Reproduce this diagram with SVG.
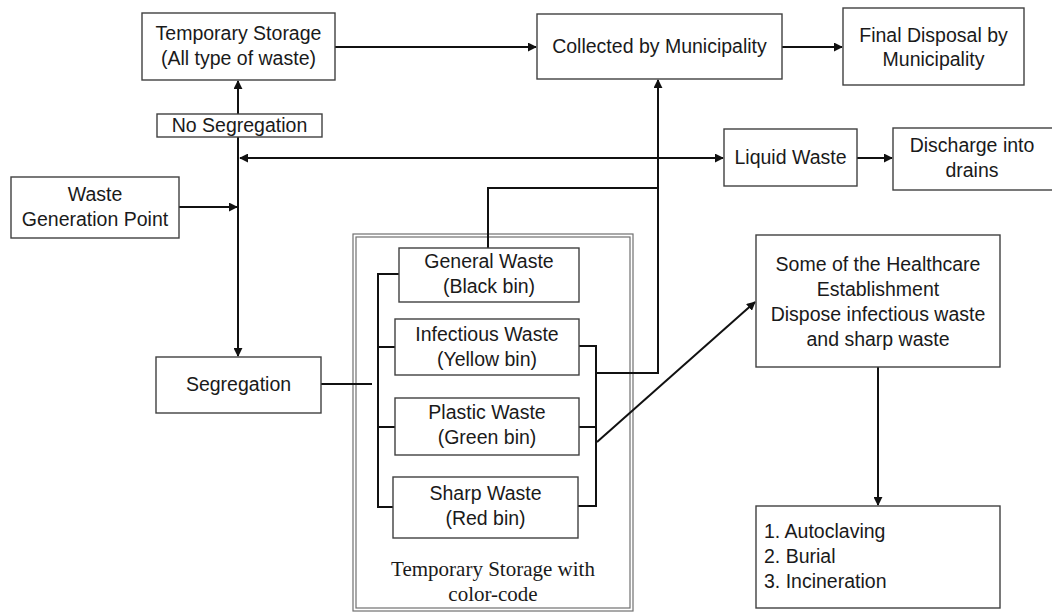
<svg xmlns="http://www.w3.org/2000/svg" width="1052" height="612" viewBox="0 0 1052 612">
<defs>
<style>
.box{fill:#fff;stroke:#404040;stroke-width:1.4}
.outer{fill:none;stroke:#707070;stroke-width:1.2}
.t{font-family:"Liberation Sans",Arial,sans-serif;font-size:19.5px;fill:#1a1a1a;text-anchor:middle}
.tl{font-family:"Liberation Sans",Arial,sans-serif;font-size:19.5px;fill:#1a1a1a}
.s{font-family:"Liberation Serif","Times New Roman",serif;font-size:21px;fill:#1a1a1a;text-anchor:middle}
.c{fill:none;stroke:#111;stroke-width:2}
.ca{fill:none;stroke:#111;stroke-width:2;marker-end:url(#ah)}
</style>
<marker id="ah" viewBox="0 0 10 10" refX="9" refY="5" markerWidth="4.5" markerHeight="4.5" orient="auto-start-reverse" markerUnits="strokeWidth">
<path d="M0,0 L10,5 L0,10 z" fill="#111"/>
</marker>
</defs>

<g id="storage-frame">
<rect x="353" y="234" width="280" height="377" class="outer"/>
<rect x="356" y="237" width="274" height="371" class="outer"/>
<text class="s" x="493" y="576">Temporary Storage with</text>
<text class="s" x="493" y="601">color-code</text>
</g>

<g id="connectors">
<path class="ca" d="M179,207 L237,207"/>
<path class="ca" d="M238,114 L238,81"/>
<path class="c" d="M238,137 L238,160"/>
<path class="ca" d="M238,158 L238,356"/>
<path class="ca" d="M240,158 L723,158" style="marker-start:url(#ah)"/>
<path class="ca" d="M335,47 L536,47"/>
<path class="ca" d="M782,47 L842,47"/>
<path class="ca" d="M857,158 L892,158"/>
<path class="c" d="M321,384 L372,384"/>
<path class="c" d="M399,274 L378,274 L378,507 L393,507"/>
<path class="c" d="M378,347 L395,347"/>
<path class="c" d="M378,427 L395,427"/>
<path class="c" d="M579,346 L596,346 L596,506 L578,506"/>
<path class="c" d="M579,427 L596,427"/>
<path class="ca" d="M596,373 L658,373 L658,80"/>
<path class="c" d="M488,248 L488,188 L658,188"/>
<path class="ca" d="M597,442 L755,302"/>
<path class="ca" d="M878,367 L878,505"/>
</g>

<g id="temporary-storage">
<rect class="box" x="142" y="13" width="193" height="67"/>
<text class="t" x="238.5" y="40">Temporary Storage</text>
<text class="t" x="238.5" y="65">(All type of waste)</text>
</g>
<g id="no-segregation">
<rect class="box" x="157" y="114" width="165" height="23"/>
<text class="t" x="239.5" y="132">No Segregation</text>
</g>
<g id="waste-generation">
<rect class="box" x="11" y="177" width="168" height="61"/>
<text class="t" x="95" y="201">Waste</text>
<text class="t" x="95" y="226">Generation Point</text>
</g>
<g id="segregation">
<rect class="box" x="156" y="357" width="165" height="56"/>
<text class="t" x="238.5" y="391">Segregation</text>
</g>
<g id="collected">
<rect class="box" x="537" y="14" width="245" height="65"/>
<text class="t" x="659.5" y="53">Collected by Municipality</text>
</g>
<g id="final-disposal">
<rect class="box" x="843" y="8" width="181" height="77"/>
<text class="t" x="933.5" y="42">Final Disposal by</text>
<text class="t" x="933.5" y="66">Municipality</text>
</g>
<g id="liquid-waste">
<rect class="box" x="724" y="129" width="133" height="57"/>
<text class="t" x="790.5" y="164">Liquid Waste</text>
</g>
<g id="discharge">
<rect class="box" x="893" y="128" width="160" height="62"/>
<text class="t" x="972" y="152">Discharge into</text>
<text class="t" x="972" y="177">drains</text>
</g>
<g id="general-waste">
<rect class="box" x="399" y="248" width="180" height="54"/>
<text class="t" x="489" y="268">General Waste</text>
<text class="t" x="489" y="293">(Black bin)</text>
</g>
<g id="infectious-waste">
<rect class="box" x="395" y="319" width="184" height="56"/>
<text class="t" x="487" y="341">Infectious Waste</text>
<text class="t" x="487" y="366">(Yellow bin)</text>
</g>
<g id="plastic-waste">
<rect class="box" x="395" y="398" width="184" height="57"/>
<text class="t" x="487" y="419">Plastic Waste</text>
<text class="t" x="487" y="444">(Green bin)</text>
</g>
<g id="sharp-waste">
<rect class="box" x="393" y="477" width="185" height="61"/>
<text class="t" x="485.5" y="500">Sharp Waste</text>
<text class="t" x="485.5" y="525">(Red bin)</text>
</g>
<g id="healthcare">
<rect class="box" x="756" y="235" width="244" height="132"/>
<text class="t" x="878" y="271">Some of the Healthcare</text>
<text class="t" x="878" y="296">Establishment</text>
<text class="t" x="878" y="321">Dispose infectious waste</text>
<text class="t" x="878" y="346">and sharp waste</text>
</g>
<g id="methods">
<rect class="box" x="756" y="506" width="244" height="102"/>
<text class="tl" x="764" y="538">1. Autoclaving</text>
<text class="tl" x="764" y="563">2. Burial</text>
<text class="tl" x="764" y="588">3. Incineration</text>
</g>
</svg>
